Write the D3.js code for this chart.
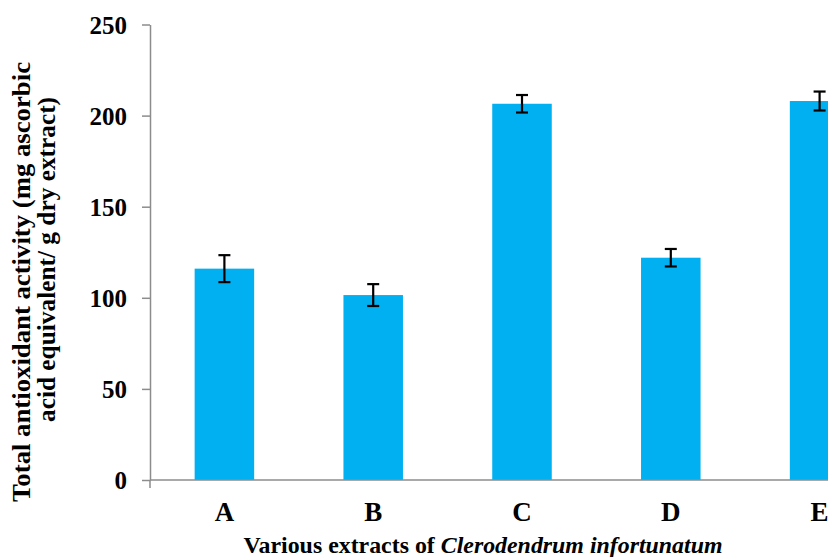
<!DOCTYPE html>
<html>
<head>
<meta charset="utf-8">
<script src="https://cdn.jsdelivr.net/npm/d3@7"></script>
<style>
  body { margin: 0; background: #fff; }
  text { font-family: "Liberation Serif", "Times New Roman", serif; font-weight: bold; }
</style>
</head>
<body>
<svg id="chart" width="828" height="557"></svg>
<script>
var categories = ["A", "B", "C", "D", "E"]
var values = [116, 101.5, 206.5, 122, 208]
var errors = [7.4, 6, 4.8, 4.8, 5.2]
var yTicks = [0, 50, 100, 150, 200, 250]

var svg = d3.select("#chart")

var x = d3.scaleBand()
  .domain(categories)
  .range([150, 894])
  .paddingInner(0.6)
  .paddingOuter(0.3)

var y = d3.scaleLinear()
  .domain([0, 250])
  .range([480, 24.5])

// bars
svg.selectAll("rect.bar")
  .data(values)
  .enter()
  .append("rect")
  .attr("class", "bar")
  .attr("x", function(d, i){ return x(categories[i]) })
  .attr("width", x.bandwidth())
  .attr("y", function(d){ return y(d) })
  .attr("height", function(d){ return y(0) - y(d) })
  .style("fill", "#00b0f0")

// error bars
var eb = svg.selectAll("g.err")
  .data(values)
  .enter()
  .append("g")
  .attr("class", "err")
  .attr("transform", function(d, i){ return "translate(" + (x(categories[i]) + x.bandwidth() / 2) + ",0)" })
  .style("stroke", "#000")
  .style("stroke-width", "2.2")

eb.append("line")
  .attr("y1", function(d, i){ return y(d + errors[i]) })
  .attr("y2", function(d, i){ return y(d - errors[i]) })
eb.append("line")
  .attr("x1", -6).attr("x2", 6)
  .attr("y1", function(d, i){ return y(d + errors[i]) })
  .attr("y2", function(d, i){ return y(d + errors[i]) })
eb.append("line")
  .attr("x1", -6).attr("x2", 6)
  .attr("y1", function(d, i){ return y(d - errors[i]) })
  .attr("y2", function(d, i){ return y(d - errors[i]) })

// y axis
var yAxis = svg.append("g")
  .attr("transform", "translate(150,0)")
  .call(d3.axisLeft(y).tickValues(yTicks).tickSize(8).tickPadding(15).tickSizeOuter(0))
yAxis.select(".domain").style("stroke", "#8c8c8c").style("stroke-width", "1.5")
yAxis.selectAll(".tick line").style("stroke", "#8c8c8c").style("stroke-width", "1.5")
yAxis.selectAll(".tick text")
  .attr("font-size", "25px")
  .attr("dy", "0.34em")
  .style("fill", "#000")

// x axis
var xAxis = svg.append("g")
  .attr("transform", "translate(0,480)")
  .call(d3.axisBottom(x).tickSize(0).tickPadding(0))
xAxis.select(".domain").remove()
xAxis.append("line")
  .attr("x1", 150).attr("x2", 828)
  .style("stroke", "#8c8c8c").style("stroke-width", "1.5")
xAxis.append("line")
  .attr("x1", 150).attr("x2", 150).attr("y1", 0).attr("y2", 8)
  .style("stroke", "#8c8c8c").style("stroke-width", "1.5")
xAxis.selectAll(".tick text")
  .attr("font-size", "27px")
  .attr("y", 41)
  .attr("dy", null)
  .style("fill", "#000")

// x title
var xt = svg.append("text")
  .attr("x", 483)
  .attr("y", 553)
  .attr("text-anchor", "middle")
  .attr("font-size", "24px")
  .attr("textLength", 479)
  .attr("lengthAdjust", "spacingAndGlyphs")
xt.append("tspan").text("Various extracts of ")
xt.append("tspan").style("font-style", "italic").text("Clerodendrum infortunatum")

// y title
svg.append("text")
  .attr("transform", "translate(30,282) rotate(-90)")
  .attr("text-anchor", "middle")
  .attr("font-size", "26px")
  .attr("textLength", 440)
  .attr("lengthAdjust", "spacingAndGlyphs")
  .text("Total antioxidant activity (mg ascorbic")
svg.append("text")
  .attr("transform", "translate(55,259.5) rotate(-90)")
  .attr("text-anchor", "middle")
  .attr("font-size", "26px")
  .attr("textLength", 325)
  .attr("lengthAdjust", "spacingAndGlyphs")
  .text("acid equivalent/ g dry extract)")
</script>
</body>
</html>
